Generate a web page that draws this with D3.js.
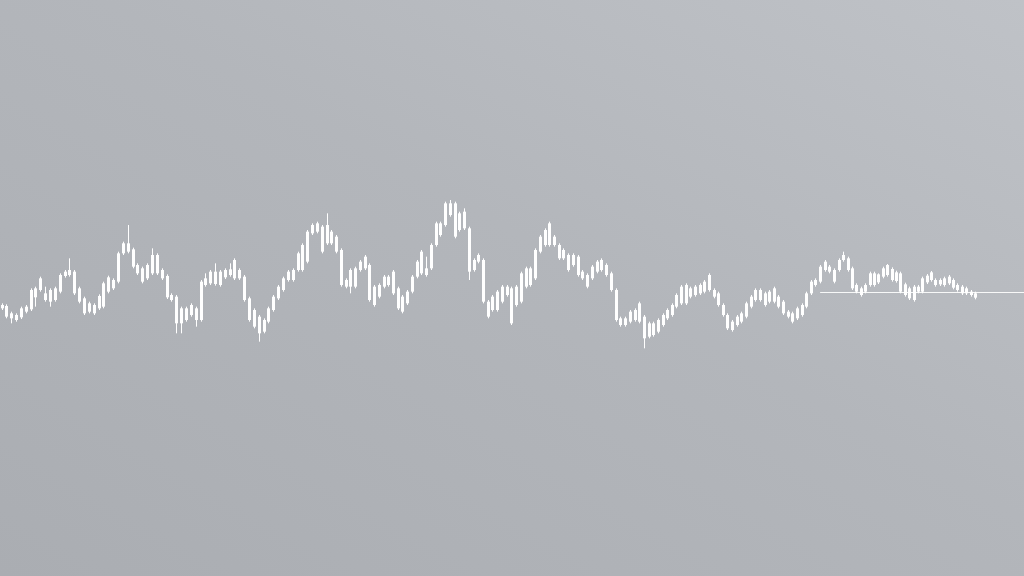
<!DOCTYPE html>
<html>
<head>
<meta charset="utf-8">
<script src="https://cdn.jsdelivr.net/npm/d3@7"></script>
<style>
  html, body { margin: 0; padding: 0; background: #b3b6bb; }
  svg { display: block; }
</style>
</head>
<body>
<svg id="chart" width="1024" height="576"></svg>
<script>
// ---- Data ----
const openPrices = [
  107.5,108.2,106.0,105.5,104.8,106.5,107.2,110.8,113.0,112.0,
  109.5,110.0,112.5,117.2,117.5,118.5,113.5,110.5,109.0,108.5,
  107.5,108.0,112.5,113.5,115.5,124.0,124.5,125.2,120.5,119.5,
  116.5,118.0,123.5,119.0,117.2,111.5,111.0,107.5,104.0,105.5,
  107.5,104.0,114.5,115.0,118.5,114.5,116.8,117.5,116.5,119.0,
  117.0,110.5,107.0,105.0,100.5,103.5,107.0,110.5,113.0,116.0,
  116.0,119.0,119.0,121.5,130.0,130.5,132.0,127.0,130.5,129.0,
  125.0,116.0,114.0,114.0,119.0,119.5,120.5,114.0,111.0,114.0,
  114.5,118.5,113.5,111.0,109.0,112.5,117.0,118.0,119.5,119.5,
  126.5,129.5,132.5,135.5,139.0,136.0,131.5,131.5,122.0,121.5,
  122.0,109.5,107.0,107.0,109.5,111.5,113.5,108.5,109.5,114.0,
  114.5,116.5,124.5,126.5,126.5,129.0,126.5,125.0,123.5,120.5,
  123.0,118.5,117.5,116.5,118.5,119.0,120.5,118.0,113.0,104.5,
  102.5,103.5,104.0,103.5,105.0,103.0,99.5,100.5,102.5,104.5,
  105.5,108.0,109.0,109.0,111.0,111.5,112.0,112.5,113.0,113.0,
  112.0,108.5,105.5,103.5,102.5,103.5,105.0,108.0,110.0,113.0,
  112.0,109.5,109.5,111.0,109.5,106.5,106.0,104.5,105.5,108.0,
  112.0,114.5,115.5,119.0,120.0,119.0,119.0,122.0,122.5,119.5,
  114.5,113.5,112.5,114.5,118.0,115.3,117.0,117.5,119.3,118.3,
  118.0,114.7,113.5,110.0,112.5,112.5,115.3,116.0,116.0,114.7,
  114.5,115.0,116.0,114.5,114.0,113.5,112.5,112.0
];
const closePrices = [
  108.5,105.0,104.5,104.0,107.5,108.0,113.0,113.5,116.5,110.0,
  113.0,113.5,117.5,118.5,119.0,112.0,109.5,106.0,106.5,106.0,
  111.2,115.0,116.8,116.0,124.0,127.0,127.0,120.0,118.0,115.5,
  120.5,123.5,118.0,116.5,110.8,110.0,103.0,103.0,107.5,108.5,
  104.0,115.5,116.5,118.5,114.8,118.5,119.0,119.2,122.0,116.5,
  110.0,104.0,102.0,100.0,104.0,107.5,111.0,114.0,116.5,118.5,
  119.0,124.0,126.5,130.5,132.5,133.0,124.5,132.5,127.0,124.5,
  114.5,114.0,119.0,119.5,121.5,123.0,110.0,108.5,114.5,117.0,
  117.0,112.0,107.5,106.5,112.5,117.0,121.5,124.5,117.5,126.5,
  133.0,133.0,139.0,139.0,129.0,131.0,136.5,118.5,119.0,123.5,
  109.5,105.0,111.0,112.5,114.0,114.0,103.0,114.0,118.0,119.5,
  119.5,125.0,129.0,131.0,133.0,126.5,122.5,122.5,119.0,123.5,
  117.5,116.5,114.0,120.0,121.5,122.0,117.5,113.0,104.0,102.5,
  104.5,106.5,107.0,109.0,98.5,99.0,103.0,104.0,105.5,107.0,
  108.5,111.5,114.0,114.5,113.5,114.0,114.5,115.5,117.5,111.0,
  108.5,105.5,101.5,101.0,105.0,106.0,109.0,111.0,113.0,110.0,
  108.5,112.5,113.5,108.0,106.0,105.0,103.5,107.5,108.5,112.0,
  115.5,116.0,120.0,121.5,118.5,115.5,122.0,123.5,119.0,113.5,
  112.5,111.5,114.5,118.0,114.5,117.7,119.5,120.5,116.0,115.7,
  112.5,111.5,110.5,114.0,114.0,116.5,117.3,118.3,114.5,116.0,
  116.5,117.0,113.7,113.0,112.0,112.0,111.5,110.7
];
const highPrices = [
  109,108.7,106.5,106,108,108.5,113.5,114,117,114,
  113.5,114,118,119,122.5,119,114,111,109.5,109,
  111.7,115.5,117.3,116.5,124.5,127.5,132.5,125.7,121,120,
  121,125.5,124,119.5,117.7,112,111.5,108,108,109,
  108,116,118,119,121,119,119.5,121,122.5,119.5,
  117.5,111,107.5,105.5,104.5,108,111.5,114.5,117,119,
  119.5,124.5,127,131,133,133.5,132.5,136,131,129.5,
  125.5,116.5,119.5,120,122,123.5,121,114.5,115,117.5,
  117.5,119,114,111.5,113,117.5,122,125,123,127,
  133.5,133.5,139.5,140,139.5,136.5,137.5,132,122.5,124,
  122.5,110,111.5,113,114.5,114.5,114,114.5,118.5,120,
  120,125.5,129.5,131.5,133.5,129.5,127,125.5,124,124,
  123.5,119,118,120.5,122,122.5,121,118.5,113.5,105,
  105,107,107.5,109.5,105.5,103.5,103.5,104.5,106,107.5,
  109,112,114.5,115,114,114.5,115,116,118,113.5,
  112.5,109,106,104,105.5,106.5,109.5,111.5,113.5,113.5,
  112.5,113,114,111.5,110,107,106.5,108,109,112.5,
  116,116.5,120.5,122,120.5,119.5,122.5,124.5,123,120,
  115,114,115,118.5,118.5,118,120,120.8,119.8,118.8,
  118.5,115.2,114,114.5,114.5,117,117.8,118.7,116.5,116.5,
  117,117.5,116.5,115,114.5,114,113,112.5
];
const lowPrices = [
  107,104.5,103,103.5,104.3,106,106.7,108,112.5,109.5,
  108,109.5,112,116.7,117,111.5,109,105.5,106,105.5,
  107,107.5,112,113,115,123.5,124,119.5,117.5,115,
  116,117.5,117.5,116,110.3,109.5,100,100,103.5,105,
  102,103.5,114,114.5,114.3,114,116.3,117,116,116,
  109.5,103.5,101.5,97.5,100,103,106.5,110,112.5,115.5,
  115.5,118.5,118.5,121,129.5,130,124,126.5,126.5,124,
  114,113.5,112,113.5,118.5,119,109.5,108,110.5,113.5,
  114,111.5,107,106,108.5,112,116.5,117.5,117,119,
  126,129,132,135,128.5,130.5,131,116,118.5,121,
  109,104.5,106.5,106.5,109,111,102.5,108,109,113.5,
  114,116,124,126,126,126,122,122,118.5,120,
  117,116,113.5,116,118,118.5,117,112.5,103.5,102,
  102,103,103.5,103,95.5,98.5,99,100,102,104,
  105,107.5,108.5,108.5,110.5,111,111.5,112,112.5,110.5,
  108,105,101,100.5,102,103,104.5,107.5,109.5,109.5,
  108,109,109,107.5,105.5,104.5,103,104,105,107.5,
  111.5,114,115,118.5,118,115,118.5,121.5,118.5,113,
  112,111,112,114,114,114.8,116.5,117,115.5,115.2,
  112,111,110,109.5,112,112,114.8,115.5,114,114.2,
  114,114.5,113.2,112.5,111.5,111.5,111,110.2
];
// horizontal support level and the candle where it starts
const levelPrice = 112.4;
const levelStartIndex = 172;

// ---- Layout ----
const W = 1024, H = 576;
const n = Math.min(openPrices.length, closePrices.length, highPrices.length, lowPrices.length);
const candles = d3.range(n).map(i => ({
  i, o: openPrices[i], c: closePrices[i], h: highPrices[i], l: lowPrices[i]
}));

const svg = d3.select("#chart");
const defs = svg.append("defs");
const grad = defs.append("linearGradient")
  .attr("id", "bg").attr("x1", "0").attr("y1", "1").attr("x2", "1").attr("y2", "0");
grad.append("stop").attr("offset", "0%").attr("stop-color", "#aaadb2");
grad.append("stop").attr("offset", "55%").attr("stop-color", "#b3b6bb");
grad.append("stop").attr("offset", "100%").attr("stop-color", "#bfc2c7");
svg.append("rect").attr("width", W).attr("height", H).attr("fill", "url(#bg)");

// piecewise-linear index scale (candles sit slightly tighter toward the right)
const x = d3.scaleLinear()
  .domain([0, 67, 134, 177, n - 1])
  .range([1.5, 326.7, 644, 843.3, 975]);
const y = d3.scaleLinear().domain([27.2, 200]).range([H, 0]);

const bodyW = 3;
const g = svg.append("g");

// support line
g.append("line")
  .attr("x1", x(levelStartIndex)).attr("x2", W)
  .attr("y1", Math.round(y(levelPrice)) + 0.5).attr("y2", Math.round(y(levelPrice)) + 0.5)
  .attr("stroke", "#ffffff").attr("stroke-width", 1).attr("opacity", 0.9);

const cg = g.selectAll("g.candle").data(candles).enter().append("g").attr("class", "candle");
cg.append("line")
  .attr("x1", d => Math.round(x(d.i)) + 0.5)
  .attr("x2", d => Math.round(x(d.i)) + 0.5)
  .attr("y1", d => y(d.h))
  .attr("y2", d => y(d.l))
  .attr("stroke", "#ffffff").attr("stroke-width", 1);
cg.append("rect")
  .attr("x", d => Math.round(x(d.i)) - 1)
  .attr("width", bodyW)
  .attr("y", d => y(Math.max(d.o, d.c)))
  .attr("height", d => Math.max(1, Math.abs(y(d.o) - y(d.c))))
  .attr("fill", "#ffffff");
</script>
</body>
</html>
